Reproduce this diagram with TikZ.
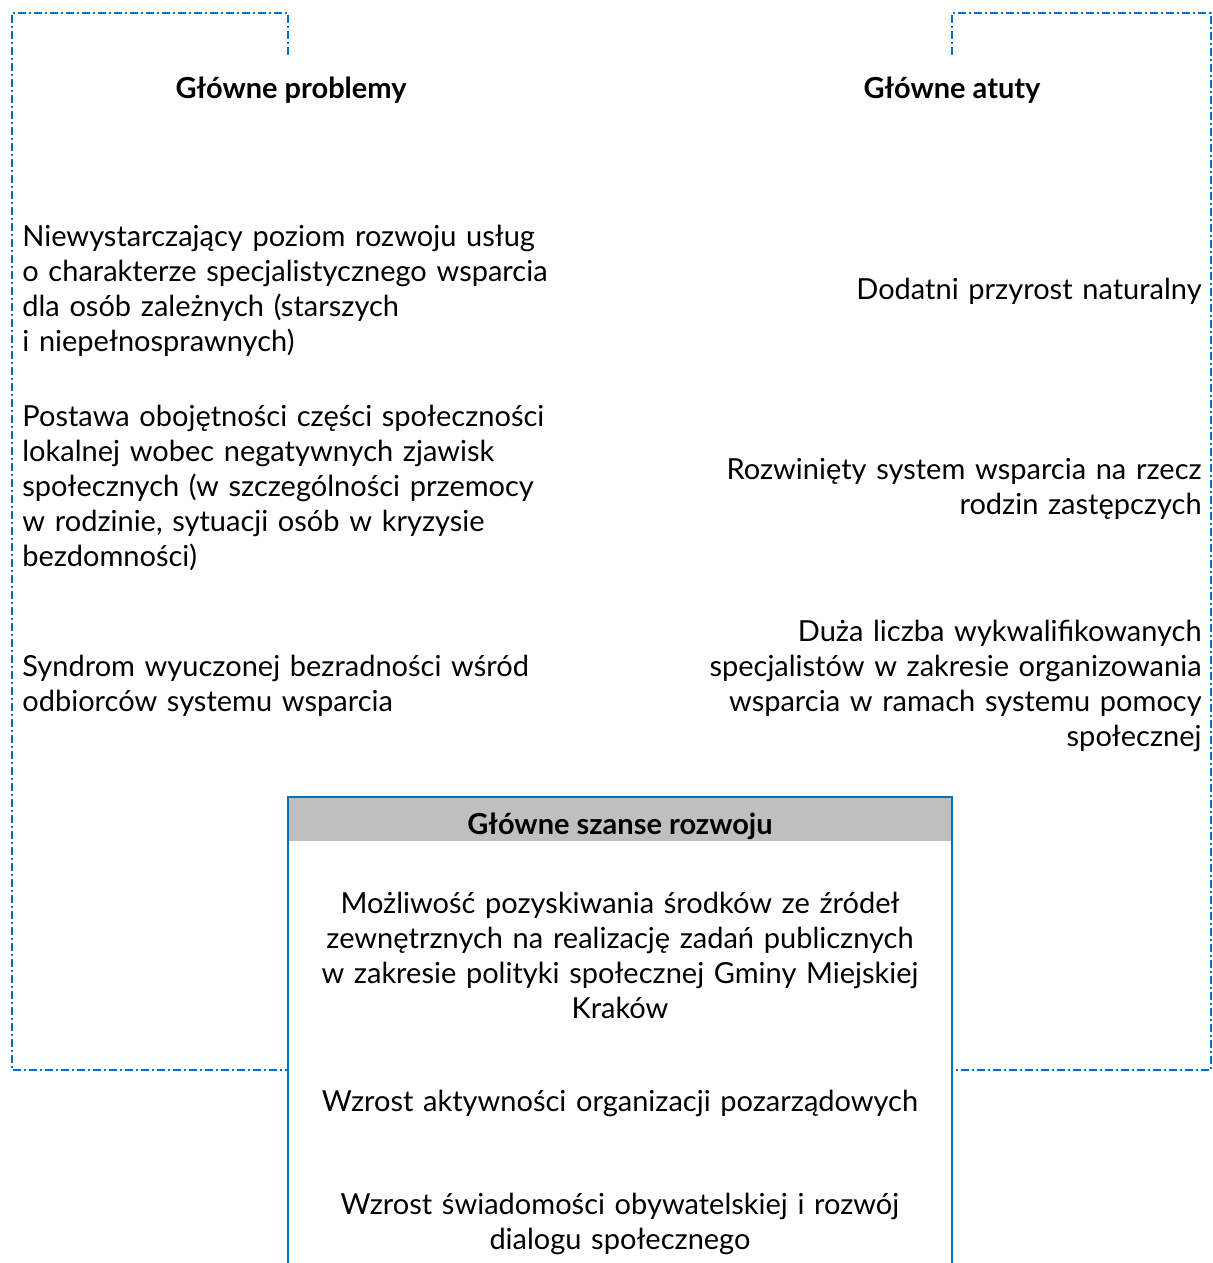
\documentclass[tikz,border=0pt]{standalone}
\usepackage{fontspec}
\setmainfont{Lato}
\definecolor{ramka}{HTML}{0070C0}
\definecolor{szary}{HTML}{BFBFBF}
\tikzset{
  kreska/.style={draw=ramka, line width=1.25pt, dash pattern=on 4pt off 1.5pt on 1pt off 1.5pt},
  pole/.style={draw=ramka, line width=1.25pt},
  tekst/.style={inner sep=0pt, font=\fontsize{14.5}{17.5}\selectfont},
  tytul/.style={tekst, font=\fontsize{14.5}{17.5}\selectfont\bfseries},
}
\begin{document}
\begin{tikzpicture}[x=0.5pt,y=-0.5pt]
\useasboundingbox (0,0) rectangle (1213,1263);
% ramki
\draw[kreska] (288,55) -- (288,13) -- (12,13) -- (12,1070) -- (288,1070);
\draw[kreska] (952,55) -- (952,13) -- (1211,13) -- (1211,1070) -- (952,1070);
\fill[szary] (288,797) rectangle (952,841);
\draw[pole] (288,1263) -- (288,797) -- (952,797) -- (952,1263);
% naglowki
\node[tytul, anchor=base] (problemy) at (291,98) {Główne problemy};
\node[tytul, anchor=base] (atuty) at (952,98) {Główne atuty};
\node[tytul, anchor=base] (szanse) at (620,834) {Główne szanse rozwoju};
% problemy
\node[tekst, anchor=base west, text width=550*0.5pt, align=left] (p1) at (22,246)
  {Niewystarczający poziom rozwoju usług\\ o charakterze specjalistycznego wsparcia\\ dla osób zależnych (starszych\\ i niepełnosprawnych)};
\node[tekst, anchor=base west, text width=550*0.5pt, align=left] (p2) at (22,426)
  {Postawa obojętności części społeczności\\ lokalnej wobec negatywnych zjawisk\\ społecznych (w szczególności przemocy\\ w rodzinie, sytuacji osób w kryzysie\\ bezdomności)};
\node[tekst, anchor=base west, text width=550*0.5pt, align=left] (p3) at (22,676)
  {Syndrom wyuczonej bezradności wśród\\ odbiorców systemu wsparcia};
% atuty
\node[tekst, anchor=base east, text width=520*0.5pt, align=right] (a1) at (1202,299)
  {Dodatni przyrost naturalny};
\node[tekst, anchor=base east, text width=520*0.5pt, align=right] (a2) at (1202,479)
  {Rozwinięty system wsparcia na rzecz\\ rodzin zastępczych};
\node[tekst, anchor=base east, text width=520*0.5pt, align=right] (a3) at (1202,641)
  {Duża liczba wykwalifikowanych\\ specjalistów w zakresie organizowania\\ wsparcia w ramach systemu pomocy\\ społecznej};
% szanse
\node[tekst, anchor=base, text width=630*0.5pt, align=center] (s1) at (620,913)
  {Możliwość pozyskiwania środków ze źródeł\\ zewnętrznych na realizację zadań publicznych\\ w zakresie polityki społecznej Gminy Miejskiej\\ Kraków};
\node[tekst, anchor=base, text width=630*0.5pt, align=center] (s2) at (620,1111)
  {Wzrost aktywności organizacji pozarządowych};
\node[tekst, anchor=base, text width=630*0.5pt, align=center] (s3) at (620,1214)
  {Wzrost świadomości obywatelskiej i rozwój\\ dialogu społecznego};
\end{tikzpicture}
\end{document}
